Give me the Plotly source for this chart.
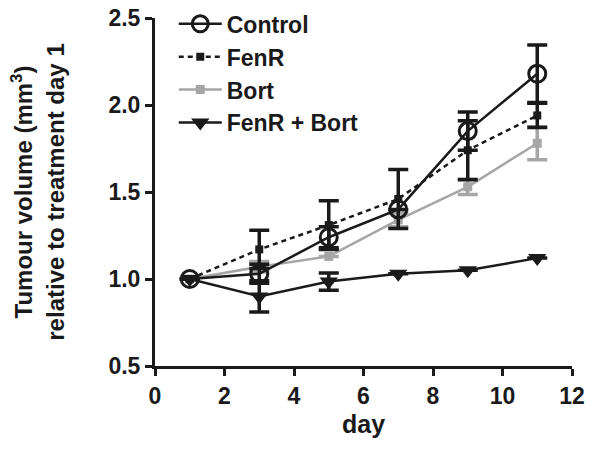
import plotly.graph_objects as go

days = [1, 3, 5, 7, 9, 11]
control = [1.00, 1.03, 1.24, 1.40, 1.85, 2.18]
control_err = [0.0, 0.055, 0.06, 0.0, 0.11, 0.165]
fenr = [1.00, 1.17, 1.31, 1.46, 1.74, 1.94]
fenr_err = [0.0, 0.11, 0.14, 0.17, 0.17, 0.07]
bort = [1.00, 1.07, 1.13, 1.34, 1.53, 1.78]
bort_err = [0.0, 0.03, 0.0, 0.04, 0.045, 0.095]
combo = [1.00, 0.90, 0.985, 1.03, 1.05, 1.12]
combo_err = [0.0, 0.09, 0.05, 0.0, 0.0, 0.0]

FONT = "Liberation Sans, Arial, sans-serif"
INK = "#1a1a1a"
GRAY = "#a6a6a6"

fig = go.Figure()

def err(vals, color):
    return dict(type="data", array=vals, visible=True, color=color, thickness=3.5, width=10)

fig.add_trace(go.Scatter(
    x=days, y=bort, name="Bort", mode="lines+markers", legendrank=3,
    line=dict(color=GRAY, width=2.5),
    marker=dict(symbol="square", size=9, color=GRAY),
    error_y=err(bort_err, GRAY)))
fig.add_trace(go.Scatter(
    x=days, y=fenr, name="FenR", mode="lines+markers", legendrank=2,
    line=dict(color=INK, width=2.5, dash="5px,4px"),
    marker=dict(symbol="square", size=8, color=INK),
    error_y=err(fenr_err, INK)))
fig.add_trace(go.Scatter(
    x=days, y=combo, name="FenR + Bort", mode="lines+markers", legendrank=4,
    line=dict(color=INK, width=2.5),
    marker=dict(symbol="triangle-down", size=16, color=INK),
    error_y=err(combo_err, INK)))
fig.add_trace(go.Scatter(
    x=days, y=control, name="Control", mode="lines+markers", legendrank=1,
    line=dict(color=INK, width=2.5),
    marker=dict(symbol="circle-open", size=17, color=INK, line=dict(width=3)),
    error_y=err(control_err, INK)))

axis_common = dict(
    showline=True, linecolor=INK, linewidth=3, ticks="outside",
    tickcolor=INK, tickwidth=3, ticklen=7, showgrid=False, zeroline=False,
    ticklabeloverflow="allow",
    tickfont=dict(family=FONT, size=23, color=INK, weight="bold"),
)

fig.update_xaxes(range=[0, 12], tickvals=[0, 2, 4, 6, 8, 10, 12],
                 title=dict(text="day", font=dict(family=FONT, size=25, color=INK, weight="bold"), standoff=8),
                 **axis_common)
fig.update_yaxes(range=[0.5, 2.5], tickvals=[0.5, 1.0, 1.5, 2.0, 2.5], tickformat=".1f",
                 title=dict(text="Tumour volume (mm<sup>3</sup>)<br>relative to treatment day 1",
                            font=dict(family=FONT, size=24, color=INK, weight="bold"), standoff=38),
                 **axis_common)

fig.update_layout(
    width=600, height=450,
    margin=dict(l=155, r=28, t=18, b=84, autoexpand=False),
    plot_bgcolor="white", paper_bgcolor="white",
    showlegend=True,
    legend=dict(x=0.045, y=1.045, xanchor="left", yanchor="top",
                font=dict(family=FONT, size=23, color=INK, weight="bold"),
                bgcolor="rgba(0,0,0,0)", itemwidth=43, tracegroupgap=0),
)

fig.write_html("out.html",
               config={"displayModeBar": False},
               post_script="document.body.style.margin='0';document.body.style.overflow='hidden';")
